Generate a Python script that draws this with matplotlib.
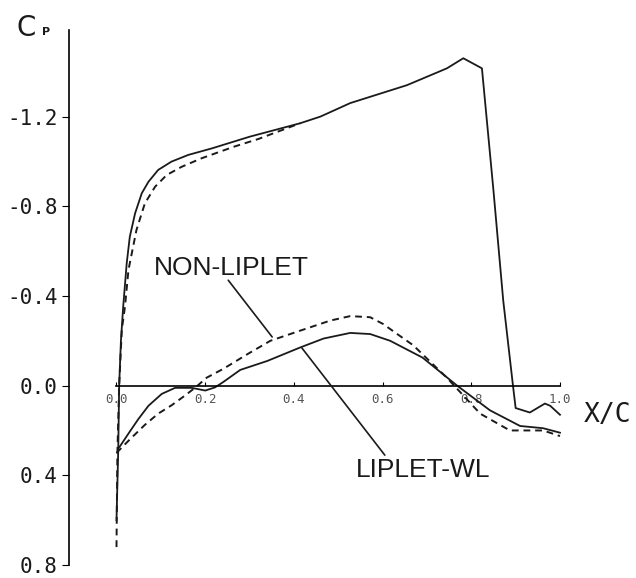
import matplotlib
matplotlib.use("Agg")
import matplotlib.pyplot as plt

# upper surface, LIPLET-WL (solid)
xu_wl = [0.0, 0.004, 0.006, 0.010, 0.015, 0.023, 0.030, 0.042, 0.057, 0.072, 0.094, 0.124,
         0.162, 0.215, 0.30, 0.414, 0.46, 0.527, 0.655, 0.745, 0.782, 0.824, 0.850, 0.872,
         0.894, 0.90, 0.932, 0.966, 0.978, 1.0]
cpu_wl = [0.60, 0.28, 0.0, -0.20, -0.35, -0.545, -0.664, -0.769, -0.858, -0.909, -0.962, -0.999,
          -1.029, -1.058, -1.11, -1.17, -1.20, -1.26, -1.34, -1.415, -1.46, -1.415, -0.87, -0.38,
          0.0, 0.10, 0.12, 0.08, 0.09, 0.13]

# lower surface, LIPLET-WL (solid)
xl_wl = [0.004, 0.008, 0.03, 0.049, 0.072, 0.102, 0.132, 0.17, 0.20, 0.222, 0.24, 0.279,
         0.34, 0.414, 0.467, 0.527, 0.572, 0.617, 0.69, 0.768, 0.842, 0.91, 0.962, 1.0]
cpl_wl = [0.28, 0.27, 0.205, 0.15, 0.09, 0.037, 0.01, 0.01, 0.022, 0.008, -0.015, -0.07,
          -0.11, -0.17, -0.21, -0.235, -0.23, -0.20, -0.125, 0.0, 0.11, 0.18, 0.19, 0.21]

# upper surface, NON-LIPLET (dashed) - runs under the solid line after ~0.3
xu_non = [0.0, 0.002, 0.006, 0.012, 0.019, 0.027, 0.045, 0.064, 0.087, 0.113, 0.147, 0.192,
          0.264, 0.32, 0.414]
cpu_non = [0.72, 0.30, 0.0, -0.25, -0.35, -0.516, -0.694, -0.813, -0.887, -0.939, -0.976, -1.014,
           -1.065, -1.10, -1.17]

# lower surface, NON-LIPLET (dashed)
xl_non = [0.0, 0.03, 0.064, 0.094, 0.124, 0.154, 0.18, 0.203, 0.241, 0.295, 0.347, 0.414,
          0.482, 0.527, 0.572, 0.601, 0.633, 0.669, 0.745, 0.82, 0.887, 0.962, 1.0]
cpl_non = [0.30, 0.24, 0.175, 0.125, 0.088, 0.045, 0.005, -0.035, -0.075, -0.14, -0.20, -0.245,
           -0.29, -0.31, -0.305, -0.275, -0.23, -0.18, -0.035, 0.125, 0.20, 0.20, 0.225]

xticks = [0.0, 0.2, 0.4, 0.6, 0.8, 1.0]
yticks = [-1.2, -0.8, -0.4, 0.0, 0.4, 0.8]
ytick_labels = ["-1.2", "-0.8", "-0.4", "0.0", "0.4", "0.8"]

fig = plt.figure(figsize=(6.36, 5.78), dpi=100)
ax = fig.add_axes([69 / 636, 0, 567 / 636, 548 / 578])
ax.set_xlim(-0.1071, 1.1714)
ax.set_ylim(0.858, -1.586)

ink = "#1a1a1a"
ax.plot(xu_wl, cpu_wl, color=ink, lw=1.3)
ax.plot(xl_wl, cpl_wl, color=ink, lw=1.3)
ax.plot(xu_non, cpu_non, color=ink, lw=1.4, linestyle=(0, (3.5, 2.5)))
ax.plot(xl_non, cpl_non, color=ink, lw=1.4, linestyle=(0, (3.5, 2.5)))

# axes
for s in ["top", "right"]:
    ax.spines[s].set_visible(False)
ax.spines["left"].set_bounds(-1.586, 0.80)
ax.spines["left"].set_linewidth(1.2)
ax.spines["bottom"].set_position(("data", 0))
ax.spines["bottom"].set_bounds(0, 1)
ax.spines["bottom"].set_linewidth(1.2)

ax.set_xticks(xticks)
ax.set_xticklabels(["%.1f" % v for v in xticks], family="DejaVu Sans Mono")
ax.tick_params(axis="x", direction="in", length=3, pad=5, labelsize=9, labelcolor="#555555")
ax.set_yticks(yticks)
ax.set_yticklabels(ytick_labels, family="DejaVu Sans Mono")
ax.tick_params(axis="y", direction="out", length=5, pad=3, labelsize=15, labelcolor=ink)

# labels
fig.text(17 / 636, 1 - 36 / 578, "C", fontsize=20, family="DejaVu Sans",
         va="baseline", color=ink)
fig.text(42 / 636, 1 - 35 / 578, "P", fontsize=8, family="DejaVu Sans", weight="bold",
         va="baseline", color=ink)
fig.text(608 / 636, 1 - 415 / 578, "X/C", fontsize=19, family="DejaVu Sans Mono",
         ha="center", va="center", color=ink)

ax.text(0.258, -0.524, "NON-LIPLET", fontsize=19, family="Liberation Sans",
        ha="center", va="center", color=ink)
ax.text(0.692, 0.378, "LIPLET-WL", fontsize=19, family="Liberation Sans",
        ha="center", va="center", color=ink)
ax.annotate("", xy=(0.351, -0.217), xytext=(0.252, -0.47),
            arrowprops=dict(arrowstyle="-", color=ink, lw=1.2, shrinkA=0, shrinkB=0))
ax.annotate("", xy=(0.418, -0.168), xytext=(0.605, 0.31),
            arrowprops=dict(arrowstyle="-", color=ink, lw=1.2, shrinkA=0, shrinkB=0))

fig.savefig("out.png", dpi=100)
